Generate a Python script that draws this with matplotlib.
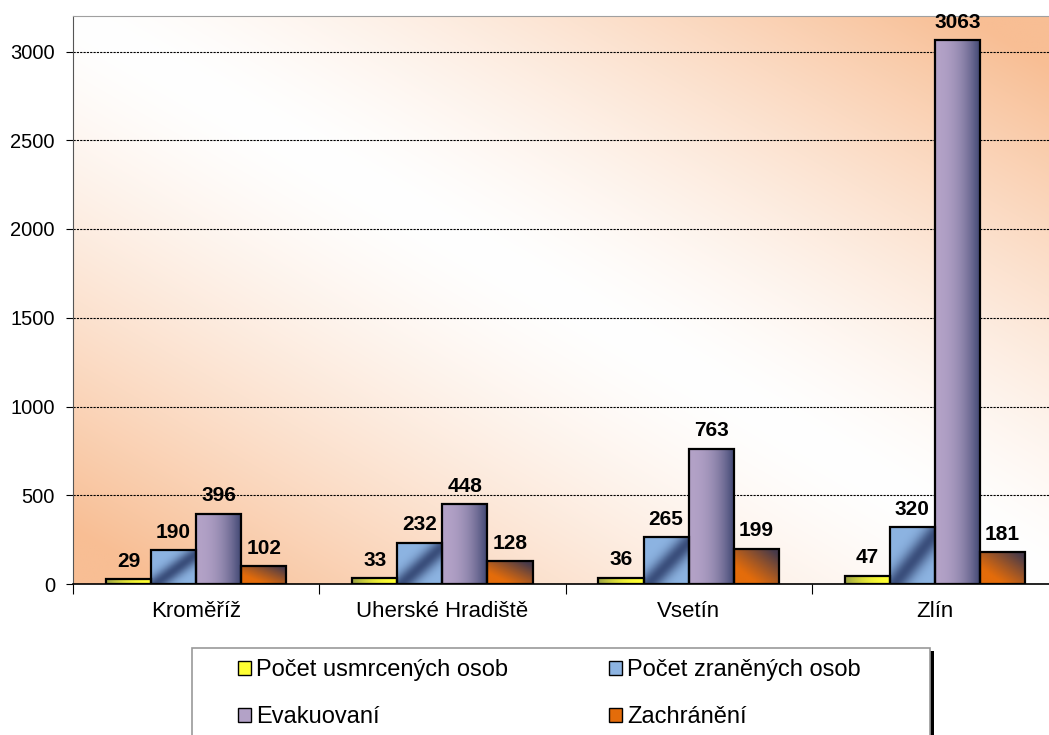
import numpy as np
import matplotlib
matplotlib.use('Agg')
import matplotlib.pyplot as plt
from matplotlib.patches import Rectangle, Patch
from matplotlib.colors import to_rgb

plt.rcParams['font.family'] = ['Liberation Sans', 'DejaVu Sans']

okresy = ['Kroměříž', 'Uherské Hradiště', 'Vsetín', 'Zlín']
usmrceni = [29, 33, 36, 47]
zraneni = [190, 232, 265, 320]
evakuovani = [396, 448, 763, 3063]
zachraneni = [102, 128, 199, 181]

serie = ['Počet usmrcených osob', 'Počet zraněných osob', 'Evakuovaní', 'Zachránění']
barvy = ['#FFFF33', '#8DB4E2', '#B3A2C7', '#E46C0A']
yticks = [0, 500, 1000, 1500, 2000, 2500, 3000]

navy = np.array(to_rgb('#1F2D5A'))


def shade(kind, u, v):
    # how much navy goes into the bar colour
    if kind == 0:
        return 0.45 * (1 - u) ** 2
    if kind == 1:
        return 0.75 * np.exp(-((u - v - 0.1) / 0.3) ** 2)
    if kind == 2:
        return 0.8 * u ** 2.2
    return 0.8 * np.clip((u + v - 0.5) / 1.3, 0, 1) ** 1.1


fig = plt.figure(figsize=(10.49, 7.35), dpi=100)
ax = fig.add_axes([73 / 1049, 1 - 584 / 735, 985 / 1049, 568 / 735])

# background gradient of plot area
gx, gy = np.meshgrid(np.linspace(0, 1, 300), np.linspace(0, 1, 300))
f = np.clip(np.abs(gx + gy - 1.0) * 1.1, 0, 1) ** 1.4
orange = np.array(to_rgb('#F8BE94'))
bg = 1 - f[..., None] * (1 - orange)
ax.imshow(bg, extent=(0, 1, 0, 1), transform=ax.transAxes, origin='lower',
          aspect='auto', zorder=0, interpolation='bilinear')

x = np.arange(len(okresy))
w = 0.183
hodnoty = [usmrceni, zraneni, evakuovani, zachraneni]
uu, vv = np.meshgrid(np.linspace(0, 1, 60), np.linspace(0, 1, 60))
for i, vals in enumerate(hodnoty):
    pos = x + (i - 1.5) * w
    bars = ax.bar(pos, vals, w, facecolor='none', edgecolor='black', linewidth=1.6,
                  zorder=3)
    base = np.array(to_rgb(barvy[i]))
    for b in bars:
        s = shade(i, uu, vv)[..., None]
        img = base * (1 - s) + navy * s
        x0, y0 = b.get_x(), b.get_y()
        im = ax.imshow(img, extent=(x0, x0 + b.get_width(), y0, y0 + b.get_height()),
                       origin='lower', aspect='auto', zorder=2.5, interpolation='bilinear')
        im.set_clip_path(b)
        ax.annotate(str(int(b.get_height())), (b.get_x() + b.get_width() / 2, b.get_height()),
                    xytext=(0, 6), textcoords='offset points', ha='center', va='bottom',
                    fontsize=15, fontweight='bold', zorder=5)

ax.set_xlim(-0.5, 3.5)
ax.set_ylim(0, 3200)
ax.set_yticks(yticks)
ax.tick_params(axis='y', labelsize=14.5, length=5, direction='out', pad=8)
ax.yaxis.grid(True, color='black', linestyle=(0, (2, 1)), linewidth=0.8)
ax.set_axisbelow(True)

ax.set_xticks([-0.5, 0.5, 1.5, 2.5, 3.5])
ax.set_xticklabels([])
ax.tick_params(axis='x', length=7, direction='out')
ax.set_xticks(x, minor=True)
ax.set_xticklabels(okresy, minor=True, fontsize=16)
ax.tick_params(axis='x', which='minor', length=0, pad=12)

ax.spines['left'].set_color('#555555')
ax.spines['bottom'].set_color('black')
ax.spines['bottom'].set_linewidth(1.2)
ax.spines['top'].set_color('#A0A0A0')
ax.spines['right'].set_visible(False)

# legend box with black shadow, cut off at bottom as in the source
fig.patches.append(Rectangle((196 / 1049, -0.05), 738 / 1049, 1 - 651 / 735 + 0.05,
                             transform=fig.transFigure, facecolor='black',
                             edgecolor='none', zorder=1))
fig.patches.append(Rectangle((192 / 1049, -0.05), 738 / 1049, 1 - 648 / 735 + 0.05,
                             transform=fig.transFigure, facecolor='white',
                             edgecolor='#999999', linewidth=1.2, zorder=2))
handles = [Patch(facecolor=barvy[i], edgecolor='black', linewidth=1.0, label=serie[i])
           for i in [0, 2, 1, 3]]
leg = fig.legend(handles=handles, loc='upper left', bbox_to_anchor=(238 / 1049, 1 - 659 / 735),
                 ncol=2, frameon=False, fontsize=17, borderpad=0, borderaxespad=0,
                 handlelength=0.55, handleheight=0.55, handletextpad=0.2,
                 labelspacing=1.07, columnspacing=4.3)
leg.set_zorder(3)

fig.savefig('out.png', dpi=100)
